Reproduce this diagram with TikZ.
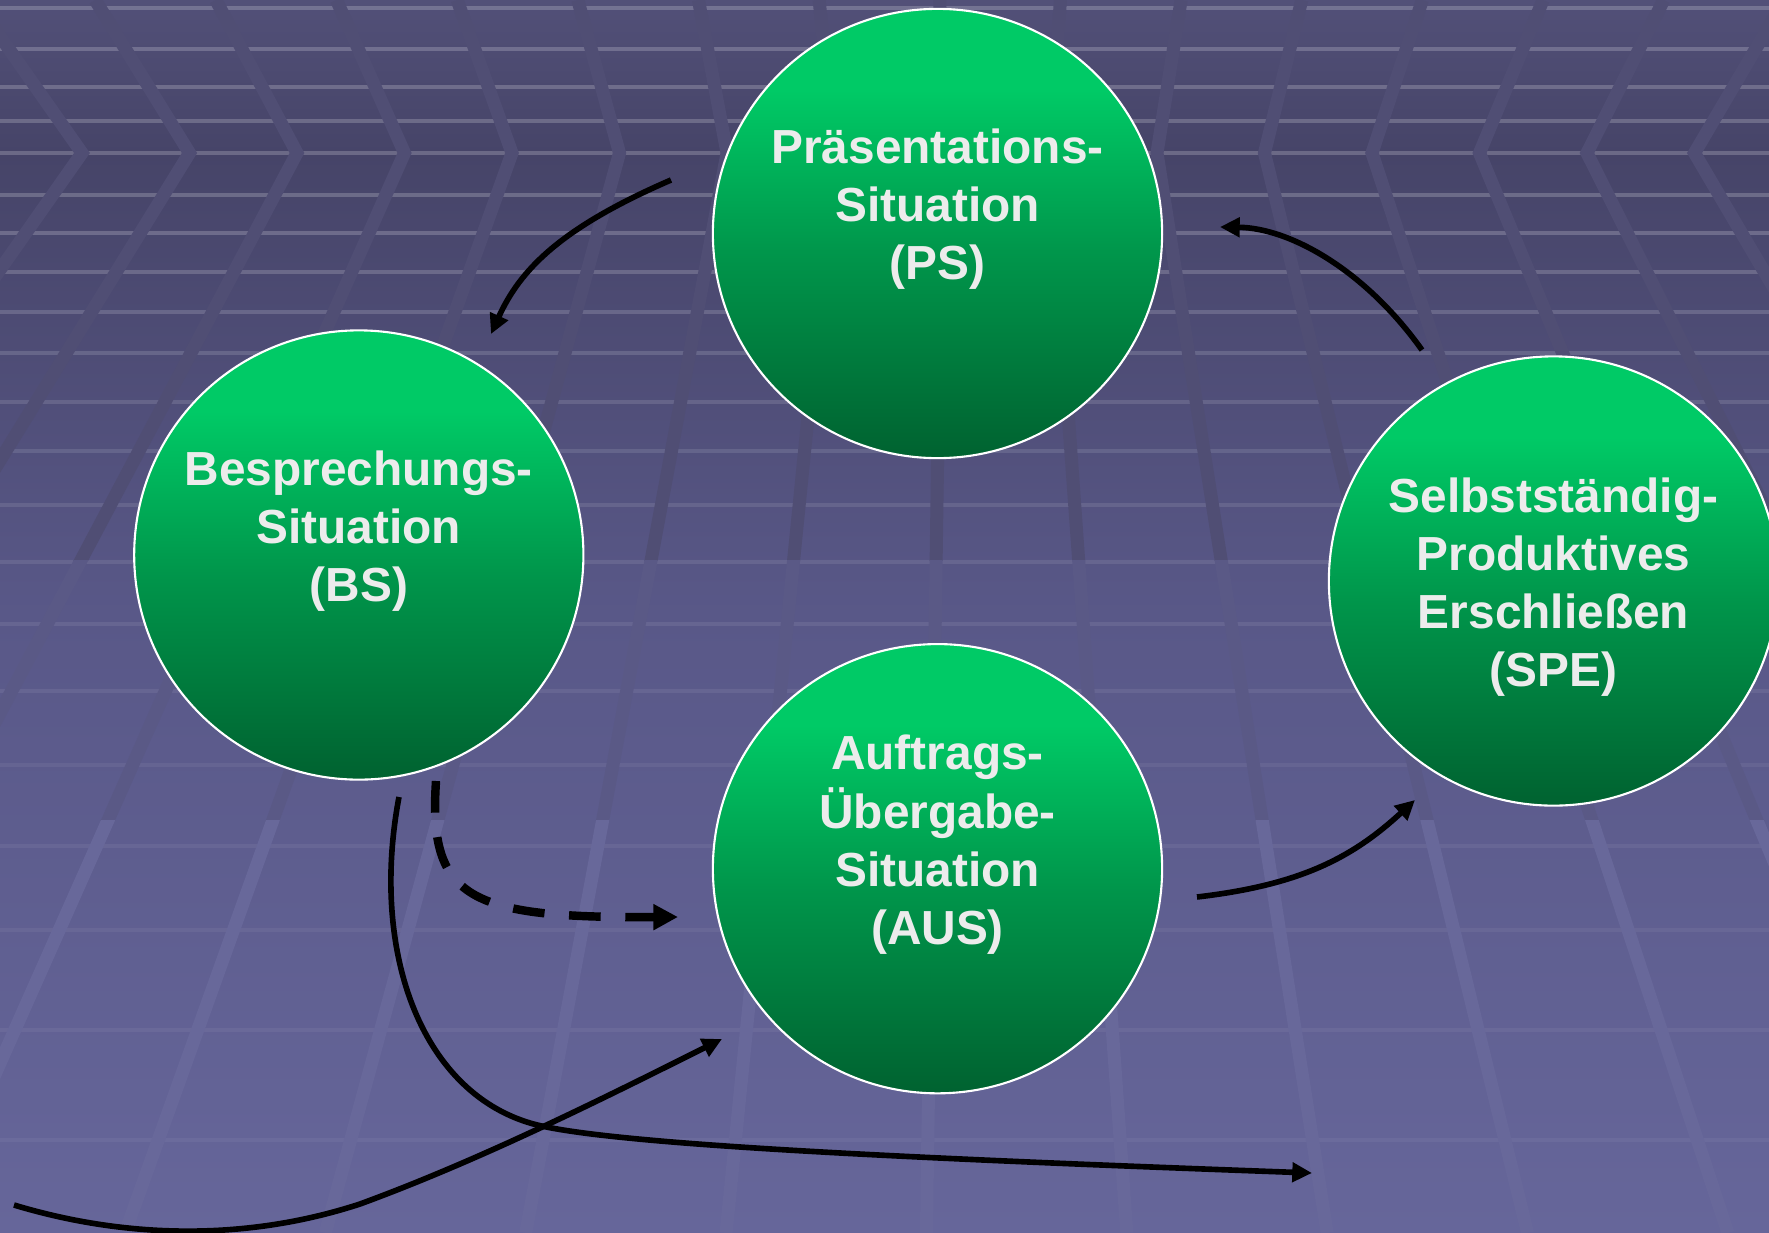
\documentclass[tikz,border=0pt]{standalone}
\usepackage{fontspec}
\setmainfont{Liberation Sans}
\usetikzlibrary{arrows.meta}

\definecolor{bgtop}{RGB}{82,80,120}
\definecolor{bghor}{RGB}{70,68,104}
\definecolor{bgmid}{RGB}{89,88,136}
\definecolor{bgbot}{RGB}{102,102,154}
\definecolor{rayup}{RGB}{80,78,116}
\definecolor{raymid}{RGB}{90,89,134}
\definecolor{raydown}{RGB}{104,104,154}
\definecolor{balllight}{RGB}{0,202,102}
\definecolor{ballmid}{RGB}{0,150,75}
\definecolor{balldark}{RGB}{0,98,48}
\definecolor{balltext}{RGB}{236,236,236}

\pgfdeclareverticalshading{floorshade}{100bp}{color(0bp)=(bgbot); color(25bp)=(bgbot);
  color(50bp)=(bgmid); color(68.8bp)=(bghor); color(75bp)=(bgtop); color(100bp)=(bgtop)}
\pgfdeclareverticalshading{ballshade}{100bp}{color(0bp)=(balldark); color(25bp)=(balldark);
  color(48bp)=(ballmid); color(66bp)=(balllight); color(100bp)=(balllight)}

\begin{document}
\begin{tikzpicture}[
  x=0.01cm, y=-0.01cm,
  ball/.style={circle, draw=white, line width=0.6pt, shading=ballshade, minimum size=4.49cm,
    inner sep=0pt, align=center, text=balltext, font=\fontsize{13.6}{16.5}\selectfont\bfseries},
  arrow/.style={-{Triangle[length=5.6pt, width=5.4pt]}, line width=1.6pt},
  dasharrow/.style={-{Triangle[length=7pt, width=7pt]}, line width=2.4pt, dash pattern=on 9pt off 7pt},
  gridline/.style={line width=1.1pt, white},
  rayline/.style={line width=3.7pt, line join=miter}
]
\useasboundingbox (0,0) rectangle (1769,1233);
\clip (0,0) rectangle (1769,1233);
% backdrop
\shade[shading=floorshade] (0,0) rectangle (1769,1233);
\foreach \y/\o in {8/.2,49/.2,87/.2,121/.2,153/.2,195/.2,233/.2,272/.18,312/.16,353/.14,
    402/.12,451/.11,505/.1,562/.09,624/.08,691/.07,765/.06,846/.06,930/.05,1030/.05,1140/.05}
  \draw[gridline, opacity=\o] (0,\y) -- (1769,\y);
\foreach \top/\bot/\col in {0/560/rayup, 560/820/raymid, 820/1233/raydown} {
  \begin{scope}
  \clip (0,\top) rectangle (1769,\bot);
  \foreach \k in {0,...,15} {
    \pgfmathsetmacro\xk{82+107.5*\k}
    \pgfmathsetmacro\xt{\xk+0.1224*(\xk-960)}
    \pgfmathsetmacro\xb{\xk+0.864*(\xk-960)}
    \draw[rayline, \col] (\xt,0) -- (\xk,153) -- (\xb,1233);
  }
  \end{scope}
}

% situations
\node[ball] (ps) at (937.5,233.5) {Präsentations-\\Situation\\(PS)\\~};
\node[ball] (bs) at (358.8,555) {Besprechungs-\\Situation\\(BS)\\~};
\node[ball] (aus) at (937.5,868.7) {Auftrags-\\Übergabe-\\Situation\\(AUS)\\~};
\node[ball] (spe) at (1553.5,581) {\rule{0pt}{13.4pt}Selbstständig-\\Produktives\\Erschließen\\(SPE)};

% arrow ends
\coordinate (psout) at (671,180);
\coordinate (bsin) at (491,334);
\coordinate (speout) at (1422,350);
\coordinate (psin) at (1220,227);
\coordinate (ausout) at (1197,897);
\coordinate (spein) at (1415,800);
\coordinate (bsdash) at (436,781);
\coordinate (ausdash) at (678,917);
\coordinate (bsdown) at (399,797);
\coordinate (farend) at (1312,1173);
\coordinate (leftstart) at (14,1205);
\coordinate (ausin) at (722,1039);

% cycle
\draw[arrow] (psout) .. controls (560,228) and (520,270) .. (bsin);
\draw[arrow] (speout) .. controls (1365,270) and (1290,228) .. (psin);
\draw[arrow] (ausout) .. controls (1300,885) and (1352,858) .. (spein);
\draw[dasharrow] (bsdash) .. controls (428,900) and (470,918) .. (ausdash);
% in and out
\draw[arrow] (bsdown) .. controls (370,950) and (420,1090) .. (530,1123)
  .. controls (600,1144) and (900,1158) .. (farend);
\draw[arrow] (leftstart) .. controls (130,1240) and (250,1240) .. (360,1204)
  .. controls (480,1160) and (600,1100) .. (ausin);
\end{tikzpicture}
\end{document}
